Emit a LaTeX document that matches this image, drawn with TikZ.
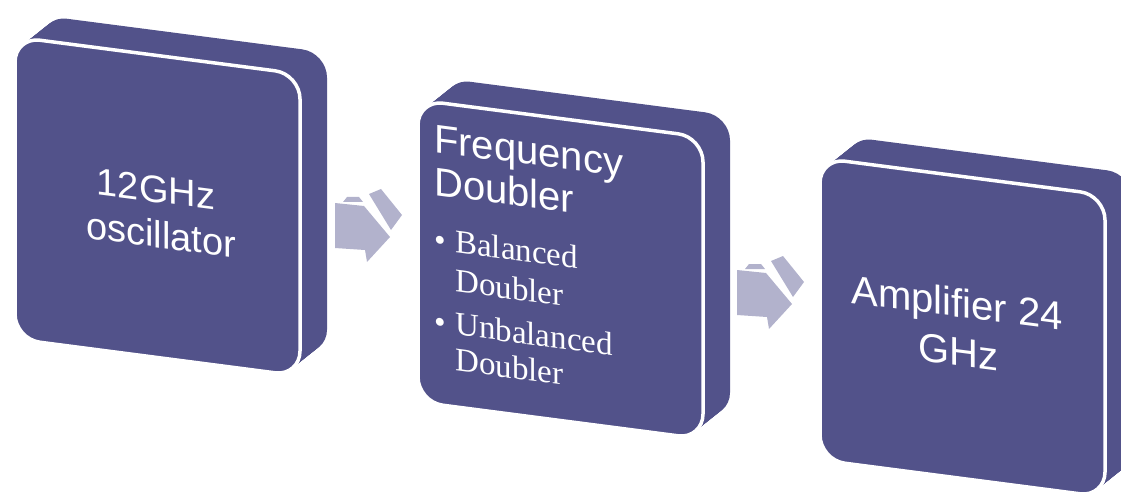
\documentclass[tikz,border=0pt]{standalone}
\usepackage{fontspec}
\setmainfont{Liberation Sans}
\newfontfamily\itemfont{Liberation Serif}
\definecolor{boxface}{RGB}{82,82,138}
\definecolor{arrowface}{RGB}{178,178,204}
\tikzset{
  slab/.style={fill=boxface, rounded corners=25pt},
  face/.style={fill=boxface, draw=white, line width=3.5pt, rounded corners=25pt},
  title/.style={text=white, inner sep=0pt, anchor=base},
  item/.style={text=white, inner sep=0pt, anchor=base west,
               font=\itemfont\fontsize{33}{38}\selectfont},
  arrowpart/.style={fill=arrowface},
}
\begin{document}
\begin{tikzpicture}[x=1pt, y=1pt]
\useasboundingbox (0,0) rectangle (1121,-497);
\clip (0,0) rectangle (1121,-497);

% ---- stage 1: oscillator
\begin{scope}[shift={(15,-37)}, yslant=-0.13, transform shape]
  \foreach \t in {1,...,24} \fill[slab] (\t*27/24,\t*25/24) rectangle ++(285,-302);
  \draw[face] (0,0) rectangle (285,-302);
  \node[title, font=\fontsize{38}{44}\selectfont] (osc1) at (141,-147) {12GHz};
  \node[title, font=\fontsize{38}{44}\selectfont] (osc2) at (146,-192) {oscillator};
\end{scope}

% ---- stage 2: frequency doubler
\begin{scope}[shift={(418,-100)}, yslant=-0.13, transform shape]
  \foreach \t in {1,...,24} \fill[slab] (\t*27/24,\t*25/24) rectangle ++(285,-302);
  \draw[face] (0,0) rectangle (285,-302);
  \node[title, anchor=base west, font=\fontsize{40}{46}\selectfont] (dbl1) at (16,-50) {Frequency};
  \node[title, anchor=base west, font=\fontsize{40}{46}\selectfont] (dbl2) at (16,-93) {Doubler};
  \node[item] (b1) at (16,-148) {•};
  \node[item] (i1) at (37,-148) {Balanced};
  \node[item] (i2) at (37,-187) {Doubler};
  \node[item] (b2) at (16,-230) {•};
  \node[item] (i3) at (37,-230) {Unbalanced};
  \node[item] (i4) at (37,-266) {Doubler};
\end{scope}

% ---- stage 3: amplifier
\begin{scope}[shift={(820,-158)}, yslant=-0.13, transform shape]
  \foreach \t in {1,...,24} \fill[slab] (\t*27/24,\t*25/24) rectangle ++(285,-302);
  \draw[face] (0,0) rectangle (285,-302);
  \node[title, font=\fontsize{40}{46}\selectfont] (amp1) at (137,-141) {Amplifier 24};
  \node[title, font=\fontsize{40}{46}\selectfont] (amp2) at (138,-190) {GHz};
\end{scope}

% ---- block arrows between the stages
\foreach \dx/\dy in {0/0, 402/67} {
  \begin{scope}[shift={(\dx,-\dy)}]
    \fill[arrowpart] (335,-203) -- (364,-206) -- (390,-237) -- (367,-262)
                     -- (365,-250) -- (335,-248) -- cycle;
    \fill[arrowpart] (343,-202) -- (347,-197) -- (359,-197) -- (363,-202) -- cycle;
    \fill[arrowpart] (369,-194) -- (381,-189) -- (402,-215) -- (391,-230) -- cycle;
  \end{scope}
}
\end{tikzpicture}
\end{document}
